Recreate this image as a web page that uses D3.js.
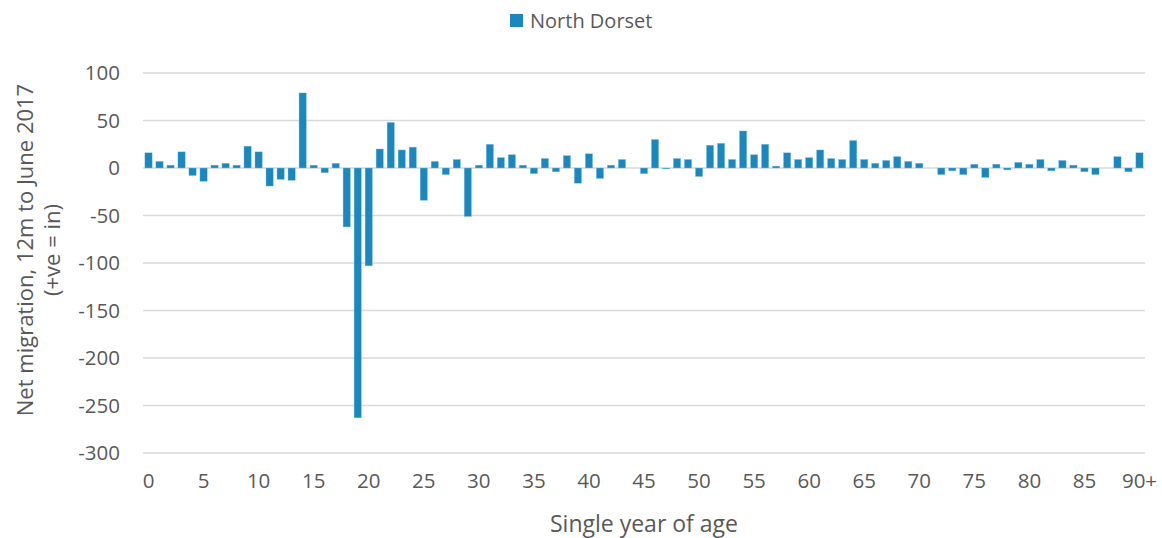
<!DOCTYPE html>
<html>
<head>
<meta charset="utf-8">
<script src="https://cdn.jsdelivr.net/npm/d3@7"></script>
<style>
  body { margin: 0; background: #fff; }
  text { font-family: "Open Sans", "Noto Sans", sans-serif; fill: #595959; }
</style>
</head>
<body>
<script>
// single year of age, 0..89 then 90+
const ages = d3.range(0, 90).map(String).concat(["90+"])
const seriesName = "North Dorset"
const netMigration = [
  16, 7, 3, 17, -8, -14, 3, 5, 3, 23,
  17, -19, -12, -13, 79, 3, -5, 5, -62, -263,
  -103, 20, 48, 19, 22, -34, 7, -7, 9, -51,
  3, 25, 11, 14, 3, -6, 10, -4, 13, -16,
  15, -11, 3, 9, 0, -6, 30, -1, 10, 9,
  -9, 24, 26, 9, 39, 14, 25, 2, 16, 9,
  11, 19, 10, 9, 29, 9, 5, 8, 12, 7,
  5, 0, -7, -3, -7, 4, -10, 4, -2, 6,
  4, 9, -3, 8, 3, -4, -7, 0, 12, -4,
  16
]
const yTicks = [100, 50, 0, -50, -100, -150, -200, -250, -300]
const xTickLabels = ["0", "5", "10", "15", "20", "25", "30", "35", "40", "45",
  "50", "55", "60", "65", "70", "75", "80", "85", "90+"]

const W = 1162, H = 538
const plot = { left: 143, right: 1145, top: 73, bottom: 453 }
const barColor = "#1a87be"

const svg = d3.select("body").append("svg")
  .attr("width", W)
  .attr("height", H)

const x = d3.scaleBand()
  .domain(ages)
  .range([plot.left, plot.right])
  .paddingInner(0.34)
  .paddingOuter(0.17)

const y = d3.scaleLinear()
  .domain([-300, 100])
  .range([plot.bottom, plot.top])

// gridlines
svg.append("g")
  .selectAll("line")
  .data(yTicks)
  .join("line")
    .attr("x1", plot.left)
    .attr("x2", plot.right)
    .attr("y1", d => y(d))
    .attr("y2", d => y(d))
    .attr("stroke", "#d9d9d9")
    .attr("stroke-width", 1.3)

// y axis labels (plain hyphen like the original)
const yAxis = svg.append("g")
  .attr("transform", "translate(" + (plot.left - 23) + ",0)")
  .call(d3.axisLeft(y).tickValues(yTicks).tickFormat(d => String(d)).tickSize(0).tickPadding(0))
yAxis.select(".domain").remove()
yAxis.selectAll("text")
  .attr("font-size", 20.5)
  .attr("fill", "#595959")
  .attr("font-family", "'Open Sans', sans-serif")

// bars
svg.append("g")
  .selectAll("rect")
  .data(netMigration)
  .join("rect")
    .attr("x", (d, i) => x(ages[i]))
    .attr("width", x.bandwidth())
    .attr("y", d => y(Math.max(0, d)))
    .attr("height", d => Math.abs(y(d) - y(0)))
    .attr("fill", barColor)
    .attr("stroke", "#8cc4e2")
    .attr("stroke-width", 0.4)

// x axis labels
const xAxis = svg.append("g")
  .attr("transform", "translate(0," + (plot.bottom + 20) + ")")
  .call(d3.axisBottom(x)
    .tickValues(ages.filter(a => xTickLabels.includes(a)))
    .tickSize(0).tickPadding(0))
xAxis.select(".domain").remove()
xAxis.selectAll("text")
  .attr("font-size", 20.5)
  .attr("fill", "#595959")
  .attr("font-family", "'Open Sans', sans-serif")

// axis titles
svg.append("text")
  .attr("x", (plot.left + plot.right) / 2)
  .attr("y", 532)
  .attr("text-anchor", "middle")
  .attr("font-size", 23)
  .text("Single year of age")

const yTitle = svg.append("text")
  .attr("transform", "translate(0,250) rotate(-90)")
  .attr("text-anchor", "middle")
  .attr("font-size", 22)
yTitle.append("tspan").attr("x", 0).attr("y", 33).text("Net migration, 12m to June 2017")
yTitle.append("tspan").attr("x", 0).attr("y", 60).text("(+ve = in)")

// legend
const legend = svg.append("g").attr("transform", "translate(510,14)")
legend.append("rect")
  .attr("width", 13)
  .attr("height", 13)
  .attr("fill", barColor)
legend.append("text")
  .attr("x", 20)
  .attr("y", 13.5)
  .attr("font-size", 20)
  .text(seriesName)
</script>
</body>
</html>
